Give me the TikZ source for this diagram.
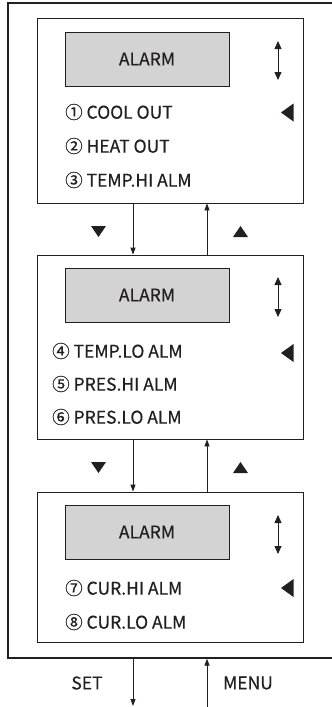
\documentclass[tikz,border=0pt]{standalone}
\usepackage{fontspec}
\setmainfont{Noto Sans CJK SC}
\newfontfamily\panelfont{Noto Sans CJK SC}[FakeBold=0.5]
\usetikzlibrary{arrows.meta}
\definecolor{ink}{HTML}{231F20}
\definecolor{lcdgray}{HTML}{D3D3D3}
\begin{document}
\begin{tikzpicture}[x=1pt,y=-1pt,
  frame/.style={draw=ink, line width=1.3pt, minimum width=337pt, minimum height=655pt, inner sep=0pt},
  panel/.style={draw=ink, line width=0.8pt, minimum width=266pt, inner sep=0pt},
  lcd/.style={draw=ink, fill=lcdgray, line width=0.8pt, minimum width=164pt, minimum height=54pt,
    text=ink, font=\panelfont\fontsize{17.5}{17.5}\selectfont},
  item/.style={anchor=west, inner sep=0pt, text=ink, font=\panelfont\fontsize{17.5}{17.5}\selectfont},
  keylabel/.style={inner sep=0pt, text=ink, font=\panelfont\fontsize{17.5}{17.5}\selectfont},
  link/.style={draw=ink, line width=0.8pt, -{Triangle[width=5pt,length=7pt]}},
  scroll/.style={draw=ink, line width=0.8pt,
    {Triangle[width=7pt,length=8pt]}-{Triangle[width=7pt,length=8pt]}},
  marker/.style={fill=ink}]
\useasboundingbox (0,0) rectangle (332,707);

% outer frame (runs past the right edge)
\node[frame] (outer) at (176.5,330.5) {};

% three display panels
\node[panel, minimum height=185pt] (b1) at (170,110.5) {};
\node[panel, minimum height=184pt] (b2) at (170,347) {};
\node[panel, minimum height=150pt] (b3) at (170,567) {};

% LCD headers
\node[lcd] (l1) at (147,59) {ALARM};
\node[lcd] (l2) at (147,295) {ALARM};
\node[lcd] (l3) at (147,532) {ALARM};

% menu items
\node[item] (i1) at (65,112) {① COOL OUT};
\node[item] (i2) at (65,146) {② HEAT OUT};
\node[item] (i3) at (65,180) {③ TEMP.HI ALM};
\node[item] (i4) at (52,351) {④ TEMP.LO ALM};
\node[item] (i5) at (52,384) {⑤ PRES.HI ALM};
\node[item] (i6) at (52,417) {⑥ PRES.LO ALM};
\node[item] (i7) at (65,588) {⑦ CUR.HI ALM};
\node[item] (i8) at (65,622) {⑧ CUR.LO ALM};

% scroll arrows
\draw[scroll] (278,41) -- (278,80);
\draw[scroll] (278,277) -- (278,317);
\draw[scroll] (278,515) -- (278,554);

% cursor markers
\fill[marker] (281,112.5) -- (293.5,103.5) -- (293.5,121.5) -- cycle;
\fill[marker] (281,353) -- (293.5,344) -- (293.5,362) -- cycle;
\fill[marker] (281,588) -- (293.5,579) -- (293.5,597) -- cycle;

% key markers between panels
\fill[marker] (91,226) -- (106,226) -- (98.5,237) -- cycle;
\fill[marker] (233,237) -- (248,237) -- (240.5,226) -- cycle;
\fill[marker] (91,462) -- (106,462) -- (98.5,473) -- cycle;
\fill[marker] (233,473) -- (248,473) -- (240.5,462) -- cycle;

% transitions between panels
\draw[link] ([xshift=-37pt]b1.south) -- ([xshift=-37pt]b2.north);
\draw[link] ([xshift=37pt]b2.north) -- ([xshift=37pt]b1.south);
\draw[link] ([xshift=-37pt]b2.south) -- ([xshift=-37pt]b3.north);
\draw[link] ([xshift=37pt]b3.north) -- ([xshift=37pt]b2.south);

% entry and exit keys
\coordinate (setout) at (133,706);
\coordinate (menuin) at (207,708);
\draw[link] (outer.south -| setout) -- (setout);
\draw[link] (menuin) -- (outer.south -| menuin);
\node[keylabel] (set) at (87,683) {SET};
\node[keylabel] (menu) at (248,683) {MENU};
\end{tikzpicture}
\end{document}
